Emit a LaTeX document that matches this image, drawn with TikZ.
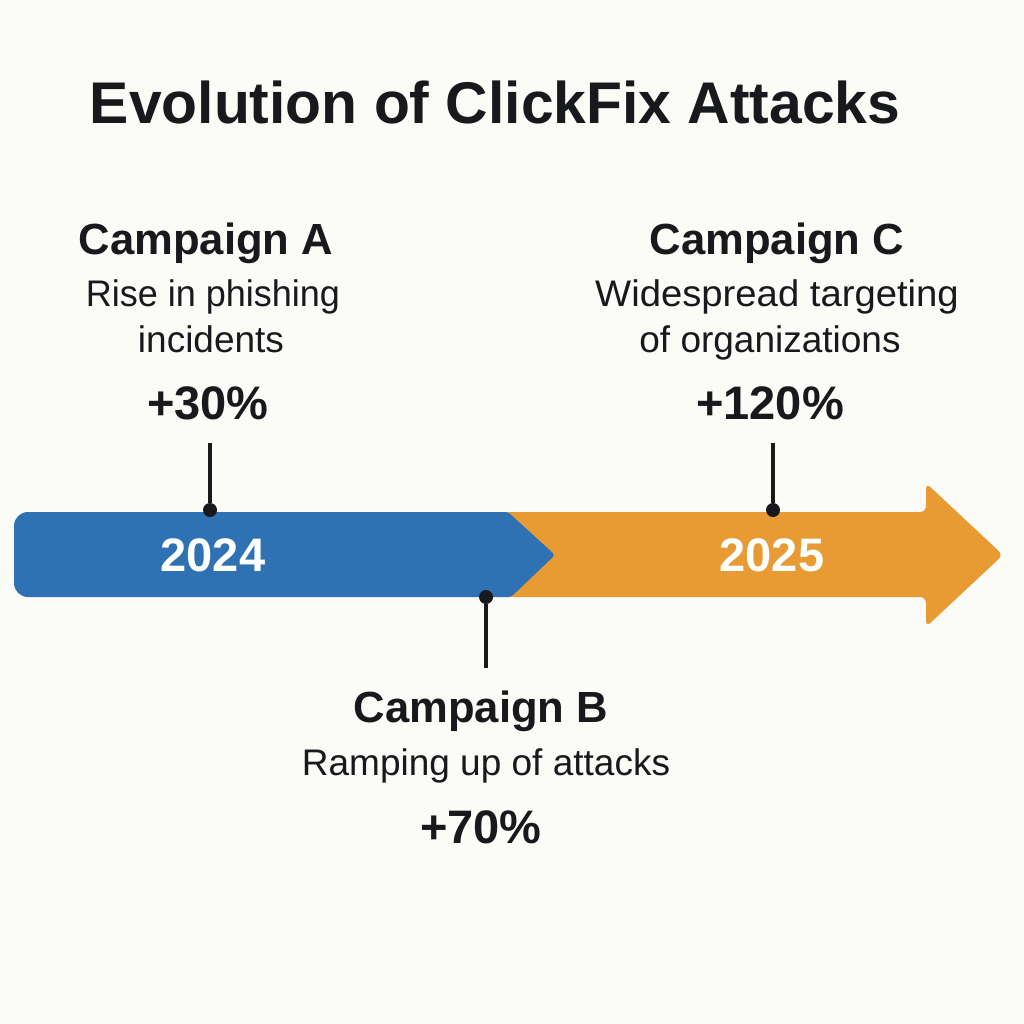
\documentclass[tikz,border=0pt]{standalone}
\usepackage{fontspec}
\setmainfont{Liberation Sans}
\definecolor{paper}{HTML}{FBFBF8}
\definecolor{ink}{HTML}{17191C}
\definecolor{barblue}{HTML}{2E72B4}
\definecolor{barorange}{HTML}{E89A33}
\begin{document}
\begin{tikzpicture}[x=1pt,y=-1pt]
	\tikzstyle{title} = [anchor=base, text=ink, font=\fontsize{58.8}{60}\selectfont\bfseries]
	\tikzstyle{campaign} = [anchor=base, text=ink, font=\fontsize{43.6}{44}\selectfont\bfseries]
	\tikzstyle{detail} = [anchor=base, text=ink, font=\fontsize{37}{37}\selectfont]
	\tikzstyle{change} = [anchor=base, text=ink, font=\fontsize{47}{47}\selectfont\bfseries]
	\tikzstyle{year} = [anchor=base, text=white, font=\fontsize{47}{47}\selectfont\bfseries]
	\tikzstyle{dot} = [circle, fill=ink, inner sep=0pt, minimum size=14pt]
	\tikzstyle{stem} = [ink, line width=3.2pt]
	\fill[paper] (0,0) rectangle (1024,1024);
	\useasboundingbox (0,0) rectangle (1024,1024);
	\node[title] (heading) at (495,124) {Evolution of ClickFix Attacks};
	% the bar
	\fill[barorange, rounded corners=6pt] (500,512) -- (926,512) -- (926,483) -- (1003,555) -- (926,627) -- (926,597) -- (500,597) -- cycle;
	\fill[barblue, rounded corners=3pt] (60,512) -- (508,512) -- (555,555) -- (511,597) -- (60,597) [rounded corners=14pt] -- (14,597) -- (14,512) -- cycle;
	\node[year] (y2024) at (213,571) {2024};
	\node[year] (y2025) at (772,571) {2025};
	% first campaign
	\node[campaign] (nameA) at (206,254) {Campaign A};
	\node[detail, xscale=.973] (lineA) at (213,306) {Rise in phishing};
	\node[detail] (lineAb) at (211,352) {incidents};
	\node[change] (valA) at (208,419) {+30\%};
	\coordinate (topA) at (210,443);
	\node[dot] (dotA) at (210,510) {};
	\draw[stem] (topA) -- (dotA);
	% second campaign
	\node[campaign] (nameB) at (481,722) {Campaign B};
	\node[detail] (lineB) at (486,775) {Ramping up of attacks};
	\node[change] (valB) at (481,843) {+70\%};
	\coordinate (endB) at (486,668);
	\node[dot] (dotB) at (486,597) {};
	\draw[stem] (dotB) -- (endB);
	% third campaign
	\node[campaign] (nameC) at (777,254) {Campaign C};
	\node[detail, xscale=1.034] (lineC) at (777,306) {Widespread targeting};
	\node[detail] (lineCb) at (770,352) {of organizations};
	\node[change] (valC) at (770,419) {+120\%};
	\coordinate (topC) at (773,443);
	\node[dot] (dotC) at (773,510) {};
	\draw[stem] (topC) -- (dotC);
\end{tikzpicture}
\end{document}
